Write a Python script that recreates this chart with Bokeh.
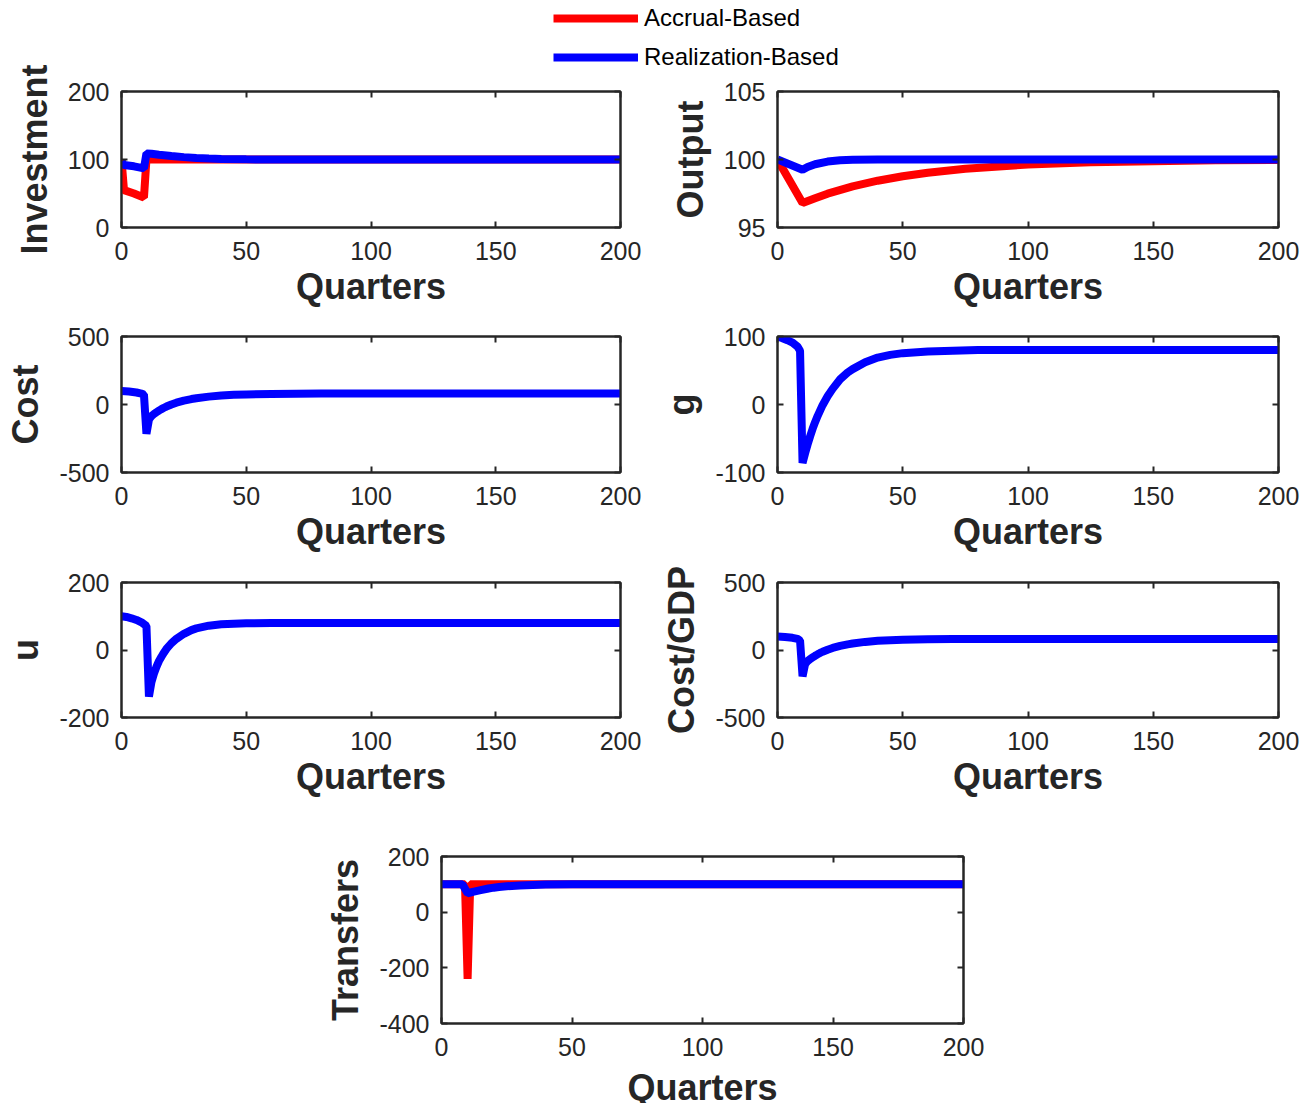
from bokeh.plotting import figure
from bokeh.layouts import column, row
from bokeh.models import Legend, LegendItem, LinearAxis, FixedTicker, Range1d, Label
from bokeh.embed import file_html
from bokeh.resources import INLINE

# ---------------- data ----------------
quarter_ticks = [0, 50, 100, 150, 200]

# Investment
inv_acc_q = [0, 1, 5, 9, 10, 200]
inv_acc = [100, 55, 50, 44, 100, 100]
inv_real_q = [0, 1, 5, 9, 10, 12, 15, 20, 25, 30, 35, 40, 50, 60, 200]
inv_real = [97, 92, 90, 87, 109, 108.5, 107, 105, 103.5, 102.2, 101.3, 100.7, 100.2, 100, 100]

# Output
out_acc_q = [0, 10, 15, 20, 30, 40, 50, 60, 75, 100, 125, 150, 175, 200]
out_acc = [100, 96.8, 97.15, 97.49, 98.02, 98.44, 98.77, 99.03, 99.32, 99.63, 99.79, 99.88, 99.94, 99.97]
out_real_q = [0, 10, 12, 15, 20, 25, 30, 40, 200]
out_real = [100, 99.25, 99.45, 99.65, 99.85, 99.94, 99.98, 100, 100]

# Cost
cost_q = [0, 3, 6, 8, 9, 10, 11, 12, 13, 14, 15, 16, 17, 18, 20, 22, 25, 28, 30, 35, 40, 45, 50, 60, 70, 80, 200]
cost = [100, 95, 88, 80, 74, -215, -110, -85, -70, -57, -45, -34, -24, -15, 0, 13, 28, 40, 46, 58, 66, 71, 74, 78, 79.5, 80, 80]

# g
g_q = [0, 2, 4, 6, 8, 9, 10, 11, 12, 13, 14, 15, 16, 17, 18, 20, 22, 25, 28, 30, 35, 40, 45, 50, 60, 70, 80, 200]
g = [100, 97.5, 94.5, 91, 85, 79, -86, -72, -59, -47, -36, -26, -17, -9, -1, 12, 23, 37, 47, 52, 62, 69, 73, 75.5, 78, 79, 80, 80]

# u
u_q = [0, 2, 4, 6, 8, 10, 11, 12, 13, 14, 15, 16, 17, 18, 20, 22, 25, 28, 30, 35, 40, 45, 50, 60, 200]
u = [100, 98, 94, 89, 82, 71, -138, -95, -70, -50, -33, -20, -8, 3, 20, 33, 48, 59, 64, 72, 76, 78, 79, 80, 80]

# Cost/GDP
cgdp_q = [0, 3, 6, 8, 9, 10, 11, 12, 13, 14, 15, 16, 17, 18, 20, 22, 25, 28, 30, 35, 40, 45, 50, 60, 70, 80, 200]
cgdp = [100, 96, 90, 82, 70, -195, -105, -82, -67, -55, -43, -32, -22, -13, 2, 15, 30, 42, 48, 60, 68, 73, 76, 80, 81.5, 82, 82]

# Transfers
tr_acc_q = [0, 9, 10, 11, 200]
tr_acc = [100, 100, -240, 100, 100]
tr_real_q = [0, 8, 10, 11, 12, 15, 18, 20, 22, 25, 30, 35, 40, 50, 200]
tr_real = [100, 100, 68, 70, 73, 79, 85, 88, 90.5, 93, 96, 98, 99, 100, 100]

series_labels = ["Accrual-Based", "Realization-Based"]
x_title = "Quarters"
RED = "#FF0000"
BLUE = "#0000FF"

# ---------------- styling ----------------
FONT = "Liberation Sans"
AX = "#262626"
TICK_SIZE = "25px"
LABEL_SIZE = "36px"
LW = 8


def style_axis(ax, show_labels=True):
    ax.axis_line_color = AX
    ax.axis_line_width = 2
    ax.major_tick_line_color = AX
    ax.major_tick_line_width = 2
    ax.major_tick_in = 6
    ax.major_tick_out = 0
    ax.minor_tick_line_color = None
    ax.major_label_text_font = FONT
    ax.major_label_text_color = AX if show_labels else None
    ax.major_label_text_font_size = TICK_SIZE
    ax.axis_label_text_font = FONT
    ax.axis_label_text_font_style = "bold"
    ax.axis_label_text_font_size = LABEL_SIZE
    ax.axis_label_text_color = AX


def hyphen_labels(ticks):
    return {t: str(t) for t in ticks}


def panel(ylabel, yr, yticks, fw, fh, bl, br, bt, bb, axis_title=True):
    p = figure(frame_width=fw, frame_height=fh,
               min_border_left=bl, min_border_right=br,
               min_border_top=bt, min_border_bottom=bb,
               x_range=Range1d(0, 200), y_range=Range1d(*yr),
               output_backend="svg", toolbar_location=None, tools="")
    p.xgrid.visible = False
    p.ygrid.visible = False
    p.outline_line_color = AX
    p.outline_line_width = 2
    p.background_fill_color = "white"
    p.border_fill_alpha = 0
    p.xaxis.ticker = FixedTicker(ticks=quarter_ticks)
    p.yaxis.ticker = FixedTicker(ticks=yticks)
    p.yaxis.major_label_overrides = hyphen_labels(yticks)
    if axis_title:
        p.xaxis.axis_label = x_title
    p.yaxis.axis_label = ylabel
    style_axis(p.xaxis[0])
    style_axis(p.yaxis[0])
    p.xaxis.major_label_standoff = 14
    p.yaxis.major_label_standoff = 12
    p.xaxis.axis_label_standoff = 3
    p.yaxis.axis_label_standoff = 10
    top = LinearAxis(ticker=FixedTicker(ticks=quarter_ticks),
                     major_label_overrides={t: "" for t in quarter_ticks})
    right = LinearAxis(ticker=FixedTicker(ticks=yticks),
                       major_label_overrides={t: "" for t in yticks})
    style_axis(top, False)
    style_axis(right, False)
    top.major_label_standoff = 0
    right.major_label_standoff = 0
    p.add_layout(top, "above")
    p.add_layout(right, "right")
    return p


# Row 1
p1 = panel("Investment", (0, 200), [0, 100, 200], 499, 136, 121, 30, 91, 93)
p1.line(inv_acc_q, inv_acc, line_color=RED, line_width=LW)
p1.line(inv_real_q, inv_real, line_color=BLUE, line_width=LW)

p2 = panel("Output", (95, 105), [95, 100, 105], 501, 136, 127, 28, 91, 93)
p2.line(out_acc_q, out_acc, line_color=RED, line_width=LW)
p2.line(out_real_q, out_real, line_color=BLUE, line_width=LW)

# Row 2
p3 = panel("Cost", (-500, 500), [-500, 0, 500], 499, 136, 121, 30, 16, 93)
p3.line(cost_q, cost, line_color=BLUE, line_width=LW)

p4 = panel("g", (-100, 100), [-100, 0, 100], 501, 136, 127, 28, 16, 93)
p4.line(g_q, g, line_color=BLUE, line_width=LW)

# Row 3
p5 = panel("u", (-200, 200), [-200, 0, 200], 499, 135, 121, 30, 17, 93)
p5.line(u_q, u, line_color=BLUE, line_width=LW)

p6 = panel("Cost/GDP", (-500, 500), [-500, 0, 500], 501, 135, 127, 28, 17, 93)
p6.line(cgdp_q, cgdp, line_color=BLUE, line_width=LW)

# Row 4
p7 = panel("Transfers", (-400, 200), [-400, -200, 0, 200], 522, 167, 441, 30, 46, 60,
           axis_title=False)
p7.line(tr_acc_q, tr_acc, line_color=RED, line_width=LW)
p7.line(tr_real_q, tr_real, line_color=BLUE, line_width=LW)

# x title of the bottom panel, in a thin transparent strip pulled up under it
tf = figure(title=None, frame_width=522, frame_height=36, min_border_left=441, min_border_right=30,
            min_border_top=0, min_border_bottom=0,
            x_range=Range1d(0, 200), y_range=Range1d(0, 1),
            x_axis_location=None, y_axis_location=None,
            output_backend="svg", toolbar_location=None, tools="")
tf.outline_line_color = None
tf.xgrid.visible = False
tf.ygrid.visible = False
tf.border_fill_alpha = 0
tf.background_fill_alpha = 0
tf.add_layout(Label(x=100, y=16, x_units="data", y_units="screen", text=x_title,
                    text_align="center", text_baseline="alphabetic",
                    text_font=FONT, text_font_style="bold", text_font_size=LABEL_SIZE,
                    text_color=AX))

# Legend strip (row 1 is pulled up over it)
lg = figure(width=1306, height=78, x_range=Range1d(0, 1), y_range=Range1d(0, 1),
            min_border=0, x_axis_location=None, y_axis_location=None,
            output_backend="svg", toolbar_location=None, tools="")
lg.outline_line_color = None
lg.xgrid.visible = False
lg.ygrid.visible = False
r_acc = lg.line(x=[-5, -4], y=[-5, -4], line_color=RED, line_width=LW)
r_real = lg.line(x=[-5, -4], y=[-5, -4], line_color=BLUE, line_width=LW)
legend = Legend(items=[LegendItem(label=series_labels[0], renderers=[r_acc]),
                       LegendItem(label=series_labels[1], renderers=[r_real])],
                location=(553, 6), glyph_width=85, glyph_height=30, label_height=30,
                spacing=9, padding=0, margin=0, label_standoff=6,
                label_text_font=FONT, label_text_font_size="24px", label_text_color="black",
                border_line_color=None, background_fill_alpha=0)
lg.add_layout(legend)

layout = column(row(lg),
                row(p1, p2, margin=(-78, 0, 0, 0)),
                row(p3, p4),
                row(p5, p6),
                row(p7),
                row(tf, margin=(-16, 0, 0, 0)))

open("out.html", "w").write(file_html(layout, INLINE))
